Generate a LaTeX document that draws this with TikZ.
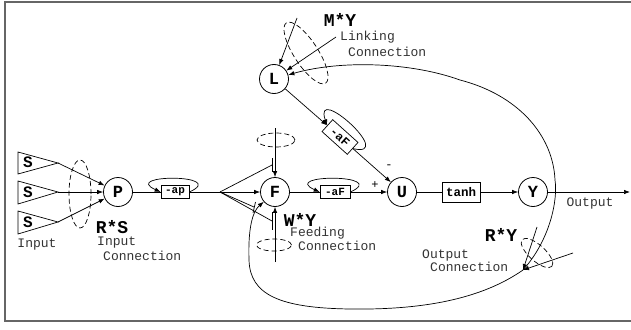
\documentclass[tikz,border=0pt]{standalone}
\usepackage{fontspec}
\newfontfamily\mono{Liberation Mono}
\usetikzlibrary{arrows.meta}
\begin{document}
\begin{tikzpicture}[x=1pt,y=1pt,
  ln/.style={line width=0.7pt},
  ar/.style={ln,-{Latex[length=6pt,width=4.5pt]}},
  neuron/.style={circle,draw,line width=0.8pt,minimum size=29pt,inner sep=0pt,font=\mono\bfseries\fontsize{17}{17}\selectfont},
  opbox/.style={draw,line width=0.7pt,inner sep=0pt,minimum height=13pt,minimum width=29pt,font=\mono\bfseries\fontsize{11}{11}\selectfont},
  dsh/.style={line width=0.7pt,dash pattern=on 5pt off 3pt},
  big/.style={inner sep=0pt,font=\mono\bfseries\fontsize{18}{18}\selectfont},
  lbl/.style={inner sep=0pt,anchor=west,text=black!80,font=\mono\fontsize{13}{13}\selectfont},
  slbl/.style={inner sep=0pt,font=\mono\bfseries\fontsize{16}{16}\selectfont},
  sign/.style={inner sep=0pt,font=\mono\fontsize{12}{12}\selectfont},
]
\useasboundingbox (0,0) rectangle (631,-329);
\draw[black!60,line width=1.2pt] (5,-2) rectangle (645,-321);

% input triangles
\draw[ln] (18,-152) -- (58,-163) -- (18,-174) -- cycle;
\draw[ln] (18,-181) -- (58,-192) -- (18,-204) -- cycle;
\draw[ln] (18,-211) -- (58,-222) -- (18,-234) -- cycle;
\node[slbl] (s1) at (28,-162) {S};
\node[slbl] (s2) at (28,-192) {S};
\node[slbl] (s3) at (28,-222) {S};
\coordinate (t1) at (58,-163);
\coordinate (t2) at (58,-192);
\coordinate (t3) at (58,-222);

% neurons
\node[neuron] (P) at (118,-192) {P};
\node[neuron] (F) at (275,-192) {F};
\node[neuron] (U) at (402,-192) {U};
\node[neuron] (Y) at (533,-192) {Y};
\node[neuron] (L) at (274,-79) {L};

% boxes
\node[opbox,minimum width=28pt] (ap) at (175,-192) {-ap};
\node[opbox,minimum width=30pt] (aF) at (335,-192) {-aF};
\node[opbox,minimum width=38pt,minimum height=20pt,font=\mono\bfseries\fontsize{12.5}{12.5}\selectfont] (tanh) at (461,-192) {tanh};
\node[opbox,rotate=-42,minimum width=34pt,minimum height=16pt,font=\mono\bfseries\fontsize{12}{12}\selectfont] (aF2) at (340,-137) {-aF};

% input connections
\draw[ar] (t1) -- (P);
\draw[ar] (t2) -- (P);
\draw[ar] (t3) -- (P);
\draw[dsh] (80,-194) ellipse [x radius=11, y radius=34];

% main line
\coordinate (fan) at (220,-192);
\draw[ln] (P) -- (ap);
\draw[ar] (ap.east) .. controls +(40,18) and +(-40,18) .. (ap.west);
\draw[ln] (ap) -- (fan);
\draw[ar] (fan) -- (F);
\coordinate (b1) at (272,-165);
\coordinate (b2) at (254,-207);
\coordinate (b3) at (272,-221);
\draw[ln] (fan) -- (b1);
\draw[ln] (fan) -- (b2);
\draw[ln] (fan) -- (b3);
\draw[ln] (272,-158) -- (272,-172);
\draw[ln] (255.5,-202) -- (253,-213);
\draw[ln] (272,-212) -- (272,-230);

\draw[ln] (F) -- (aF);
\draw[ar] (aF.east) .. controls +(40,18) and +(-40,18) .. (aF.west);
\draw[ar] (aF) -- (U);
\draw[ln] (U) -- (tanh);
\draw[ar] (tanh) -- (Y);
\coordinate (out) at (630,-192);
\draw[ar] (Y) -- (out);

% feeding connection
\coordinate (ftop) at (275,-128);
\coordinate (fbot) at (275,-262);
\draw[ar] (ftop) -- (F);
\draw[ar] (fbot) -- (F);
\draw[dsh] (276,-140) ellipse [x radius=19, y radius=7];
\draw[dsh] (274,-245) ellipse [x radius=17.5, y radius=6];

% linking connection
\coordinate (m1) at (297,-18);
\coordinate (m2) at (336,-37);
\draw[ar] (m1) -- (L);
\draw[ar] (m2) -- (L);
\draw[dsh,rotate around={-57:(306,-53)}] (306,-53) ellipse [x radius=36, y radius=12];
\draw[ar] (L) -- (aF2.west);
\draw[ar] (aF2.east) .. controls (397,-158.8) and (312.4,-82.4) .. (aF2.west);
\draw[ar] (aF2.east) -- (U);
\node[sign] (minus) at (389,-167) {-};
\node[sign] (plus) at (375,-185) {+};

% output connection
\coordinate (oc) at (523,-270);
\coordinate (o1) at (537,-227);
\coordinate (o2) at (573,-253);
\draw[ar] (o1) -- (oc);
\draw[ar] (o2) -- (oc);
\draw[dsh,rotate around={-42:(537,-253)}] (537,-253) ellipse [x radius=20, y radius=8];
\draw[ar] (oc) .. controls (550,-240) and (558,-200) .. (555,-180)
  .. controls (553,-135) and (518,-95) .. (460,-80)
  .. controls (410,-62) and (340,-60) .. (L);
\draw[ar] (oc) .. controls (480,-300) and (420,-310) .. (350,-309)
  .. controls (280,-308) and (250,-295) .. (249,-260)
  .. controls (248,-230) and (252,-212) .. (F);

% labels
\node[big] (MY) at (340,-20) {M*Y};
\node[big] (RS) at (112,-227) {R*S};
\node[big] (WY) at (300,-220) {W*Y};
\node[big] (RY) at (501,-235) {R*Y};
\node[lbl] (lk1) at (340,-37) {Linking};
\node[lbl] (lk2) at (348,-52) {Connection};
\node[lbl,anchor=center] (in0) at (37,-245) {Input};
\node[lbl] (in1) at (97,-243) {Input};
\node[lbl] (in2) at (103,-256) {Connection};
\node[lbl] (fd1) at (290,-233) {Feeding};
\node[lbl] (fd2) at (298,-246) {Connection};
\node[lbl] (oc1) at (422,-255) {Output};
\node[lbl] (oc2) at (430,-267) {Connection};
\node[lbl,anchor=center] (outl) at (590,-203) {Output};
\end{tikzpicture}
\end{document}
